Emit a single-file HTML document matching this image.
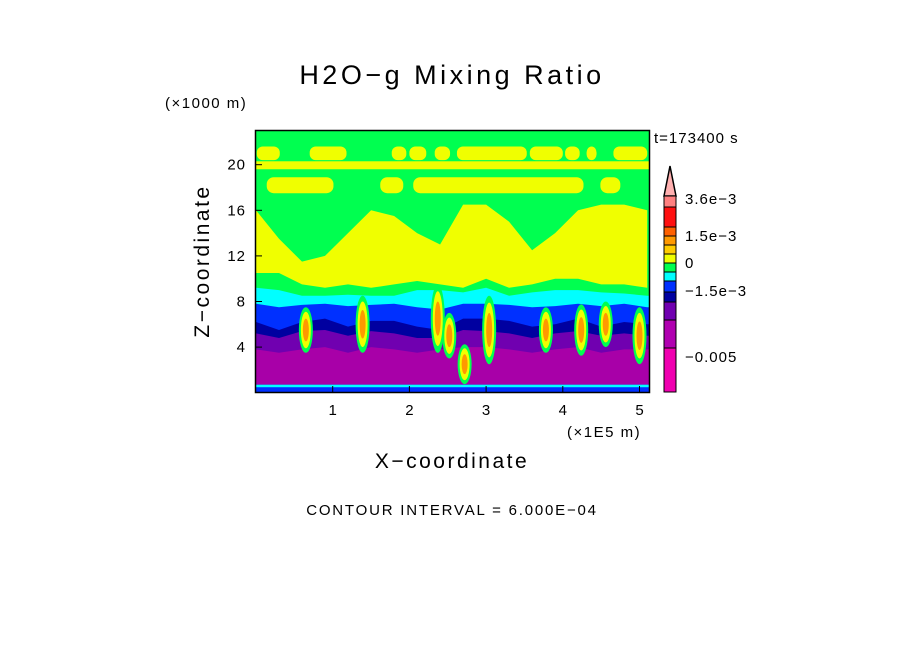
<!DOCTYPE html>
<html><head><meta charset="utf-8"><style>
html,body{margin:0;padding:0;background:#fff;}
svg{display:block;font-family:"Liberation Sans",sans-serif;}
</style></head><body>
<svg id="chart" width="904" height="654" viewBox="0 0 904 654" xmlns="http://www.w3.org/2000/svg">
<text x="452" y="84" font-size="27" text-anchor="middle" letter-spacing="3.5">H2O−g Mixing Ratio</text>
<text x="165" y="108" font-size="15" letter-spacing="1.5">(×1000 m)</text>
<text x="654" y="143" font-size="15" letter-spacing="1">t=173400 s</text>
<text x="0" y="0" font-size="21" text-anchor="middle" letter-spacing="2.5" transform="translate(209,261) rotate(-90)">Z−coordinate</text>
<text x="567" y="437" font-size="15" letter-spacing="1.5">(×1E5 m)</text>
<text x="452" y="468" font-size="21" text-anchor="middle" letter-spacing="2.5">X−coordinate</text>
<text x="452" y="515" font-size="15" text-anchor="middle" letter-spacing="1.8">CONTOUR INTERVAL = 6.000E−04</text>
<defs><clipPath id="pc"><rect x="256" y="131" width="393" height="261"/></clipPath></defs>
<g id="field" clip-path="url(#pc)"></g>
<rect x="255.5" y="130.5" width="394" height="262" fill="none" stroke="#000" stroke-width="1.5"/>
<g id="axes"></g>
<g id="cbar"></g>
</svg>
<script>
const xTicks=[1,2,3,4,5];
const yTicks=[4,8,12,16,20];
const xs=[0,0.3,0.6,0.9,1.2,1.5,1.8,2.1,2.4,2.7,3.0,3.3,3.6,3.9,4.2,4.5,4.8,5.1];
const yellowTop=[16,13.5,11.5,12,14,16,15.5,14,13,16.5,16.5,15,12.5,14,16,16.5,16.5,16];
const yellowBot=[10.5,10.5,9.5,9.2,9.5,9.2,9.5,9.8,9.5,9.2,10,9.2,9.5,10,10,9.5,9.5,9.2];
const cyanTop=[9.2,9,8.5,8.5,8.6,8.5,8.5,9,9,8.8,9.2,8.5,8.8,9,9,8.8,8.7,8.5];
const blueTop=[7.8,7.5,7.7,7.8,7.6,7.7,7.8,7.5,7.3,7.8,7.8,7.7,7.5,7.6,7.8,7.6,7.8,7.5];
const navyTop=[6.2,5.5,6.2,6.5,5.8,6.3,6.3,5.8,5.5,6.5,6.5,6.3,5.8,6,6.5,5.8,6.2,6];
const purpleTop=[5.2,4.8,5.4,5.5,5,5.4,5.2,4.8,4.8,5.5,5.4,5.2,4.8,5.2,5.4,5,5.2,5];
const magentaTop=[3.8,3.5,3.8,4,3.5,4,3.8,3.5,3.8,4,4,3.8,3.5,3.8,4,3.5,3.8,3.8];
const blob1Start=[0.01,0.7,1.77,2.0,2.33,2.62,3.57,4.03,4.31,4.66];
const blob1End=[0.31,1.18,1.96,2.22,2.53,3.53,4.0,4.22,4.44,5.1];
const blob2Start=[0.14,1.62,2.05,4.49];
const blob2End=[1.01,1.92,4.27,4.75];
const plumeX=[0.65,1.39,2.37,2.52,2.72,3.04,3.78,4.24,4.56,5.0];
const plumeZ=[5.5,6,6.5,5,2.5,5.5,5.5,5.5,6,5];
const plumeH=[4,5,6,4,3.5,6,4,4.5,4,5];
const cbColors=['#ff8080','#ff1010','#ff6000','#ff9900','#ffcc00','#f0ff00','#00ff50','#00ffff','#0030ff','#0000a0','#7000b0','#b000b0','#f000b0'];
const cbEdges=[196,207,227,236,245,254,263,272,281,292,302,320,348,392];
const cbLabels=['3.6e−3','1.5e−3','0','−1.5e−3','−0.005'];
const cbLabelY=[199,236,263,291,357];

const X=v=>256+v*76.7, Y=v=>392.7-v*11.4;
const NS='http://www.w3.org/2000/svg';
const field=document.getElementById('field');
function mk(tag,attrs,parent){const e=document.createElementNS(NS,tag);for(const k in attrs)e.setAttribute(k,attrs[k]);parent.appendChild(e);return e;}
function smooth(arr){let d='';xs.forEach((x,i)=>{d+=(i?'L':'M')+X(x).toFixed(1)+','+Y(arr[i]).toFixed(1);});return d;}
let bg=mk('rect',{x:255,y:130,width:395,height:263,fill:'#00ff50'},field);


function band(top,color,name){
  const p=mk('path',{d:smooth(top)+'L'+X(5.2)+','+Y(top[top.length-1])+'L'+X(5.2)+',400L'+X(-0.1)+',400L'+X(-0.1)+','+Y(top[0])+'Z',fill:color},field);
  
  
}
let yd=smooth(yellowTop);
for(let i=xs.length-1;i>=0;i--)yd+='L'+X(xs[i]).toFixed(1)+','+Y(yellowBot[i]).toFixed(1);
yd+='Z';
let yp=mk('path',{d:yd,fill:'#f0ff00'},field);


band(cyanTop,'#00ffff','cyan-band');
band(blueTop,'#0030ff','blue-band');
band(navyTop,'#0000a0','navy-band');
band(purpleTop,'#7000b0','purple-band');
band(magentaTop,'#a800a8','magenta-band');
let bs2=mk('rect',{x:255,y:Y(0.7),width:395,height:9,fill:'#0030ff'},field);


let bs=mk('rect',{x:255,y:Y(0.7),width:395,height:2.5,fill:'#00ffff'},field);


blob1Start.forEach((s,i)=>{const r=mk('rect',{x:X(s),y:Y(21.6),width:X(blob1End[i])-X(s),height:Y(20.4)-Y(21.6),rx:6,fill:'#f0ff00'},field);
  
  });
let st=mk('rect',{x:256,y:Y(20.3),width:393,height:Y(19.6)-Y(20.3),fill:'#f0ff00'},field);


blob2Start.forEach((s,i)=>{const r=mk('rect',{x:X(s),y:Y(18.9),width:X(blob2End[i])-X(s),height:Y(17.5)-Y(18.9),rx:7,fill:'#f0ff00'},field);
  
  });
plumeX.forEach((px,i)=>{
  const cx=X(px),cy=Y(plumeZ[i]),ry=plumeH[i]*11.4/2;
  const g=mk('ellipse',{cx:cx,cy:cy,rx:7,ry:ry,fill:'#00ff50'},field);
  
  
  const a=mk('ellipse',{cx:cx,cy:cy,rx:5,ry:ry*0.8,fill:'#f0ff00'},field);
  
  
  const b=mk('ellipse',{cx:cx,cy:cy,rx:3,ry:ry*0.5,fill:'#ff9900'},field);
  
  
});
const axes=document.getElementById('axes');
xTicks.forEach(v=>{
  const l=mk('line',{x1:X(v),x2:X(v),y1:392,y2:386,stroke:'#000'},axes);
  
  
  const t=mk('text',{x:X(v),y:415,'font-size':15,'text-anchor':'middle'},axes);t.textContent=v;
  
  
});
yTicks.forEach(v=>{
  const l=mk('line',{x1:256,x2:262,y1:Y(v),y2:Y(v),stroke:'#000'},axes);
  
  
  const t=mk('text',{x:246,y:Y(v)+5,'font-size':15,'text-anchor':'end','letter-spacing':1},axes);t.textContent=v;
  
  
});
const cb=document.getElementById('cbar');
const tri=mk('polygon',{points:'664,196 676,196 670,166',fill:'#ffb0b0',stroke:'#000','stroke-width':1.5},cb);


cbColors.forEach((c,i)=>{
  const r=mk('rect',{x:664,y:cbEdges[i],width:12,height:cbEdges[i+1]-cbEdges[i],fill:c,stroke:'#000','stroke-width':1},cb);
  
  
});
cbLabels.forEach((s,i)=>{
  const t=mk('text',{x:685,y:cbLabelY[i]+5,'font-size':15,'letter-spacing':1},cb);t.textContent=s;
  
  
});
</script>
</body></html>
